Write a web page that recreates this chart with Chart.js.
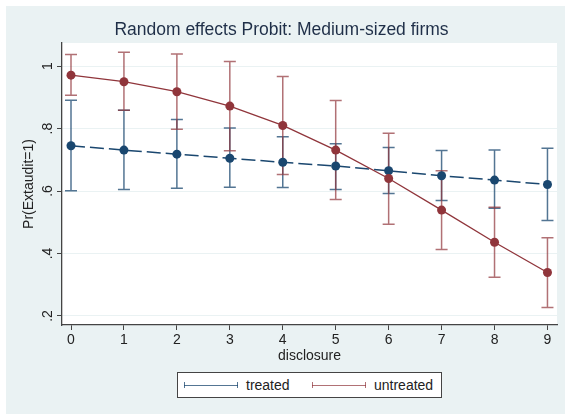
<!DOCTYPE html>
<html>
<head>
<meta charset="utf-8">
<script src="https://cdn.jsdelivr.net/npm/chart.js@4.4.0/dist/chart.umd.min.js"></script>
<style>
  body { margin: 0; background: #fff; width: 565px; height: 414px; position: relative; overflow: hidden;
         font-family: "Liberation Sans", Arial, sans-serif; }
  #wrap { position: absolute; left: 6px; top: 6px; width: 559px; height: 408px; background: #eaf2f3; }
  #chart { position: absolute; left: 0; top: 0; }
  #legend { position: absolute; left: 171px; top: 366px; width: 265px; height: 26px; box-sizing: border-box;
            background: #fff; border: 1px solid #444; font-size: 14px; color: #222; }
  .sample { position: absolute; top: 12px; height: 0; border-top: 1.5px solid; width: 54px; }
  .sample::before, .sample::after { content: ''; position: absolute; top: -4px; height: 6px; border-left: 1.5px solid; }
  .sample::before { left: 0; }
  .sample::after { right: 0; }
  .label { position: absolute; top: 4px; line-height: 16px; }
</style>
</head>
<body>
<div id="wrap">
  <canvas id="chart" width="559" height="408"></canvas>
  <div id="legend">
    <div class="sample" style="left:6px; color:rgba(26,71,111,0.75)"></div>
    <div class="label" style="left:68px">treated</div>
    <div class="sample" style="left:134px; color:rgba(144,53,59,0.7)"></div>
    <div class="label" style="left:196px">untreated</div>
  </div>
</div>
<script>
const disclosure = [0, 1, 2, 3, 4, 5, 6, 7, 8, 9];
const treatedMean = [0.745, 0.731, 0.718, 0.705, 0.692, 0.680, 0.665, 0.649, 0.635, 0.621];
const treatedLow = [0.601, 0.605, 0.609, 0.612, 0.611, 0.605, 0.592, 0.570, 0.545, 0.506];
const treatedHigh = [0.891, 0.859, 0.829, 0.802, 0.774, 0.751, 0.739, 0.730, 0.731, 0.737];
const untreatedMean = [0.971, 0.950, 0.918, 0.872, 0.810, 0.731, 0.640, 0.539, 0.436, 0.339];
const untreatedLow = [0.907, 0.859, 0.798, 0.729, 0.653, 0.573, 0.494, 0.413, 0.324, 0.227];
const untreatedHigh = [1.037, 1.044, 1.039, 1.015, 0.967, 0.890, 0.785, 0.665, 0.548, 0.450];
const yTicks = [0.2, 0.4, 0.6, 0.8, 1];
const yTickLabels = ['.2', '.4', '.6', '.8', '1'];

const navy = '#1a476f';
const maroon = '#90353b';

Chart.defaults.font.family = '"Liberation Sans", Arial, sans-serif';

const plotBackground = {
    id: 'plotBackground',
    beforeDraw(chart) {
        const {ctx, chartArea: a} = chart;
        ctx.save();
        ctx.fillStyle = '#fff';
        ctx.fillRect(a.left, a.top, a.right - a.left, a.bottom - a.top);
        ctx.restore();
    }
};

// confidence intervals as capped spikes
const errorBars = {
    id: 'errorBars',
    beforeDatasetsDraw(chart) {
        const {ctx, scales: {x, y}} = chart;
        const groups = [
            {low: treatedLow, high: treatedHigh, color: 'rgba(26,71,111,0.75)'},
            {low: untreatedLow, high: untreatedHigh, color: 'rgba(144,53,59,0.7)'}
        ];
        ctx.save();
        ctx.lineWidth = 1.5;
        groups.forEach(g => {
            ctx.strokeStyle = g.color;
            disclosure.forEach((d, i) => {
                const px = x.getPixelForValue(d);
                const top = y.getPixelForValue(g.high[i]);
                const bot = y.getPixelForValue(g.low[i]);
                ctx.beginPath();
                ctx.moveTo(px, top); ctx.lineTo(px, bot);
                ctx.moveTo(px - 6, top); ctx.lineTo(px + 6, top);
                ctx.moveTo(px - 6, bot); ctx.lineTo(px + 6, bot);
                ctx.stroke();
            });
        });
        ctx.restore();
    }
};

new Chart(document.getElementById('chart'), {
    type: 'line',
    data: {
        datasets: [{
            label: 'treated',
            data: disclosure.map((d, i) => ({x: d, y: treatedMean[i]})),
            borderColor: navy,
            backgroundColor: navy,
            borderWidth: 1.5,
            borderDash: [14, 5],
            pointRadius: 4.5,
            pointBorderWidth: 0,
            pointBackgroundColor: navy,
            order: 2
        }, {
            label: 'untreated',
            data: disclosure.map((d, i) => ({x: d, y: untreatedMean[i]})),
            borderColor: maroon,
            backgroundColor: maroon,
            borderWidth: 1.3,
            pointRadius: 4.5,
            pointBorderWidth: 0,
            pointBackgroundColor: maroon,
            order: 1
        }]
    },
    options: {
        responsive: false,
        animation: false,
        layout: { padding: { left: 0, right: 8, top: 0, bottom: 0 } },
        plugins: {
            legend: { display: false },
            tooltip: { enabled: false },
            title: {
                display: true,
                text: 'Random effects Probit: Medium-sized firms',
                color: '#1f2f48',
                font: { size: 17.5, weight: 'normal' },
                padding: { top: 13.5, bottom: 2.5 }
            }
        },
        scales: {
            x: {
                type: 'linear',
                min: -0.17,
                max: 9.18,
                afterBuildTicks: s => { s.ticks = disclosure.map(v => ({value: v})); },
                afterFit: s => { s.height = 89; },
                ticks: { color: '#222', font: { size: 14 }, padding: 2, maxRotation: 0, autoSkip: false },
                grid: { drawOnChartArea: false, tickLength: 5, tickColor: '#444' },
                border: { color: '#444', width: 1.3 },
                title: { display: true, text: 'disclosure', color: '#222', font: { size: 14 }, padding: { top: 0, bottom: 49.6 } }
            },
            y: {
                min: 0.171,
                max: 1.074,
                afterBuildTicks: s => { s.ticks = yTicks.map(v => ({value: v})); },
                afterFit: s => { s.width = 56; },
                ticks: {
                    color: '#222', font: { size: 14 }, padding: 3,
                    minRotation: 90, maxRotation: 90, crossAlign: 'center',
                    callback: v => yTickLabels[yTicks.indexOf(v)]
                },
                grid: { color: '#eaf2f3', tickLength: 5, tickColor: '#444' },
                border: { color: '#444', width: 1.3 },
                title: { display: true, text: 'Pr(Extaudit=1)', color: '#222', font: { size: 14 }, padding: { top: 15, bottom: 0 } }
            }
        }
    },
    plugins: [plotBackground, errorBars]
});
</script>
</body>
</html>
